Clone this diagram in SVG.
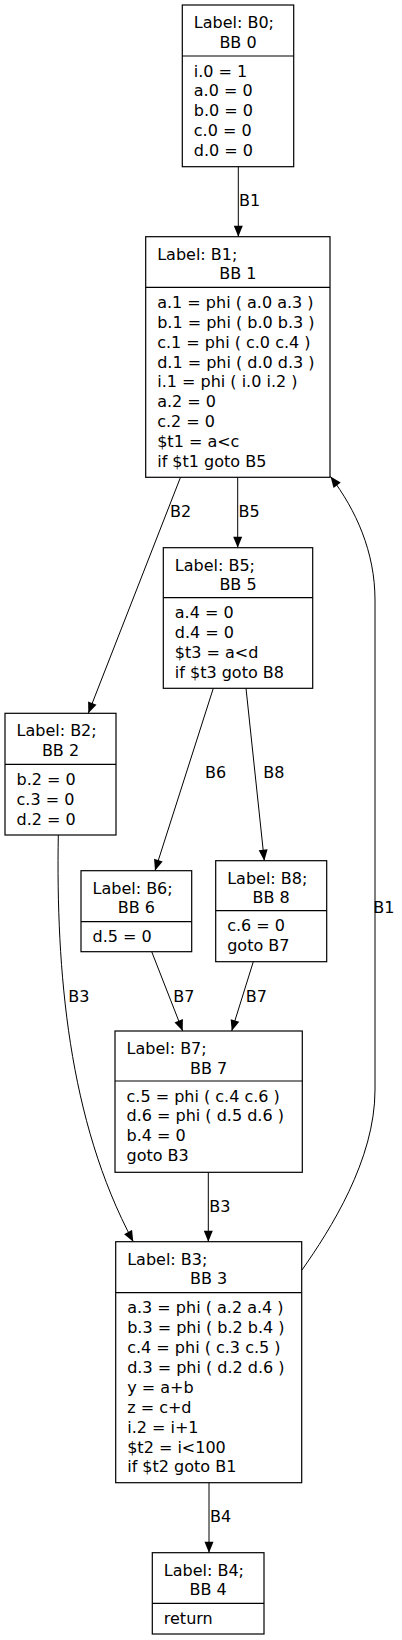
<svg xmlns="http://www.w3.org/2000/svg" width="402" height="1640" viewBox="0 0 402 1640">
<defs>
<style>
.box{fill:#fff;stroke:#000;stroke-width:1.2}
.sep{stroke:#000;stroke-width:1.2}
.t{font-family:'DejaVu Sans',sans-serif;font-size:16px;fill:#000}
.c{text-anchor:middle}
.e{fill:none;stroke:#000;stroke-width:1}
</style>
<marker id="ah" markerUnits="userSpaceOnUse" markerWidth="12" markerHeight="10" refX="11" refY="5" orient="auto" viewBox="0 0 11 10">
<path d="M0,0.5 L11,5 L0,9.5 z" fill="#000"/>
</marker>
</defs>
<rect x="0" y="0" width="402" height="1640" fill="#fff"/>

<g id="edges">
<path class="e" d="M238.3,166.7 L238.3,236.7" marker-end="url(#ah)"/>
<path class="e" d="M237.7,477.3 L237.7,547.7" marker-end="url(#ah)"/>
<path class="e" d="M180.5,477.3 L88.3,713.3" marker-end="url(#ah)"/>
<path class="e" d="M213.3,688.3 L155,870.7" marker-end="url(#ah)"/>
<path class="e" d="M246,688.3 L264.3,860.7" marker-end="url(#ah)"/>
<path class="e" d="M151.7,951.7 L182.7,1031" marker-end="url(#ah)"/>
<path class="e" d="M253.3,961.7 L231.7,1031" marker-end="url(#ah)"/>
<path class="e" d="M58.3,835 C56,970 68,1120 133.3,1241.7" marker-end="url(#ah)"/>
<path class="e" d="M208.3,1172.3 L208.3,1241.7" marker-end="url(#ah)"/>
<path class="e" d="M209,1482.7 L209,1552.7" marker-end="url(#ah)"/>
<path class="e" d="M302,1270 C330,1230 375,1160 375,1090 L375,600 C375,552 356,510 330.5,476.5" marker-end="url(#ah)"/>
<text class="t" x="239" y="206">B1</text>
<text class="t" x="238.5" y="516.7">B5</text>
<text class="t" x="170" y="516.7">B2</text>
<text class="t" x="205" y="778.3">B6</text>
<text class="t" x="263.3" y="778.3">B8</text>
<text class="t" x="173.3" y="1001.7">B7</text>
<text class="t" x="245.7" y="1001.7">B7</text>
<text class="t" x="68.3" y="1001.7">B3</text>
<text class="t" x="209.3" y="1211.7">B3</text>
<text class="t" x="210" y="1521.7">B4</text>
<text class="t" x="373.3" y="913.3">B1</text>
</g>

<g id="B0">
<rect class="box" x="182.3" y="5" width="111.4" height="161.7"/>
<line class="sep" x1="182.3" y1="56" x2="293.7" y2="56"/>
<text class="t" x="193.8" y="28">Label: B0;</text>
<text class="t c" x="238" y="47.5">BB 0</text>
<text class="t" x="193.8" y="76.5">i.0 = 1</text>
<text class="t" x="193.8" y="96.4">a.0 = 0</text>
<text class="t" x="193.8" y="116.3">b.0 = 0</text>
<text class="t" x="193.8" y="136.2">c.0 = 0</text>
<text class="t" x="193.8" y="156.1">d.0 = 0</text>
</g>

<g id="B1">
<rect class="box" x="145.7" y="236.7" width="184.3" height="240.6"/>
<line class="sep" x1="145.7" y1="287.3" x2="330" y2="287.3"/>
<text class="t" x="157.2" y="259.7">Label: B1;</text>
<text class="t c" x="237.85" y="279.2">BB 1</text>
<text class="t" x="157.2" y="307.8">a.1 = phi ( a.0 a.3 )</text>
<text class="t" x="157.2" y="327.7">b.1 = phi ( b.0 b.3 )</text>
<text class="t" x="157.2" y="347.6">c.1 = phi ( c.0 c.4 )</text>
<text class="t" x="157.2" y="367.5">d.1 = phi ( d.0 d.3 )</text>
<text class="t" x="157.2" y="387.4">i.1 = phi ( i.0 i.2 )</text>
<text class="t" x="157.2" y="407.3">a.2 = 0</text>
<text class="t" x="157.2" y="427.2">c.2 = 0</text>
<text class="t" x="157.2" y="447.1">$t1 = a&lt;c</text>
<text class="t" x="157.2" y="467">if $t1 goto B5</text>
</g>

<g id="B5">
<rect class="box" x="163.3" y="547.7" width="149.4" height="140.6"/>
<line class="sep" x1="163.3" y1="597.7" x2="312.7" y2="597.7"/>
<text class="t" x="174.8" y="570.7">Label: B5;</text>
<text class="t c" x="238" y="590.2">BB 5</text>
<text class="t" x="174.8" y="618.2">a.4 = 0</text>
<text class="t" x="174.8" y="638.1">d.4 = 0</text>
<text class="t" x="174.8" y="658">$t3 = a&lt;d</text>
<text class="t" x="174.8" y="677.9">if $t3 goto B8</text>
</g>

<g id="B2">
<rect class="box" x="5" y="713.3" width="111" height="121.7"/>
<line class="sep" x1="5" y1="764.3" x2="116" y2="764.3"/>
<text class="t" x="16.5" y="736.3">Label: B2;</text>
<text class="t c" x="60.5" y="755.8">BB 2</text>
<text class="t" x="16.5" y="784.8">b.2 = 0</text>
<text class="t" x="16.5" y="804.7">c.3 = 0</text>
<text class="t" x="16.5" y="824.6">d.2 = 0</text>
</g>

<g id="B6">
<rect class="box" x="81" y="870.7" width="110.7" height="81"/>
<line class="sep" x1="81" y1="921.7" x2="191.7" y2="921.7"/>
<text class="t" x="92.5" y="893.7">Label: B6;</text>
<text class="t c" x="136.35" y="913.2">BB 6</text>
<text class="t" x="92.5" y="942.2">d.5 = 0</text>
</g>

<g id="B8">
<rect class="box" x="215.7" y="860.7" width="111" height="101"/>
<line class="sep" x1="215.7" y1="910.7" x2="326.7" y2="910.7"/>
<text class="t" x="227.2" y="883.7">Label: B8;</text>
<text class="t c" x="271.2" y="903.2">BB 8</text>
<text class="t" x="227.2" y="931.2">c.6 = 0</text>
<text class="t" x="227.2" y="951.1">goto B7</text>
</g>

<g id="B7">
<rect class="box" x="115" y="1031" width="187.3" height="141.3"/>
<line class="sep" x1="115" y1="1081" x2="302.3" y2="1081"/>
<text class="t" x="126.5" y="1054">Label: B7;</text>
<text class="t c" x="208.65" y="1073.5">BB 7</text>
<text class="t" x="126.5" y="1101.5">c.5 = phi ( c.4 c.6 )</text>
<text class="t" x="126.5" y="1121.4">d.6 = phi ( d.5 d.6 )</text>
<text class="t" x="126.5" y="1141.3">b.4 = 0</text>
<text class="t" x="126.5" y="1161.2">goto B3</text>
</g>

<g id="B3">
<rect class="box" x="115.7" y="1241.7" width="186" height="241"/>
<line class="sep" x1="115.7" y1="1292.7" x2="301.7" y2="1292.7"/>
<text class="t" x="127.2" y="1264.7">Label: B3;</text>
<text class="t c" x="208.7" y="1284.2">BB 3</text>
<text class="t" x="127.2" y="1313.2">a.3 = phi ( a.2 a.4 )</text>
<text class="t" x="127.2" y="1333.1">b.3 = phi ( b.2 b.4 )</text>
<text class="t" x="127.2" y="1353">c.4 = phi ( c.3 c.5 )</text>
<text class="t" x="127.2" y="1372.9">d.3 = phi ( d.2 d.6 )</text>
<text class="t" x="127.2" y="1392.8">y = a+b</text>
<text class="t" x="127.2" y="1412.7">z = c+d</text>
<text class="t" x="127.2" y="1432.6">i.2 = i+1</text>
<text class="t" x="127.2" y="1452.5">$t2 = i&lt;100</text>
<text class="t" x="127.2" y="1472.4">if $t2 goto B1</text>
</g>

<g id="B4">
<rect class="box" x="152.3" y="1552.7" width="111.7" height="81.3"/>
<line class="sep" x1="152.3" y1="1603.3" x2="264" y2="1603.3"/>
<text class="t" x="163.8" y="1575.7">Label: B4;</text>
<text class="t c" x="208.15" y="1595.2">BB 4</text>
<text class="t" x="163.8" y="1623.8">return</text>
</g>
</svg>
